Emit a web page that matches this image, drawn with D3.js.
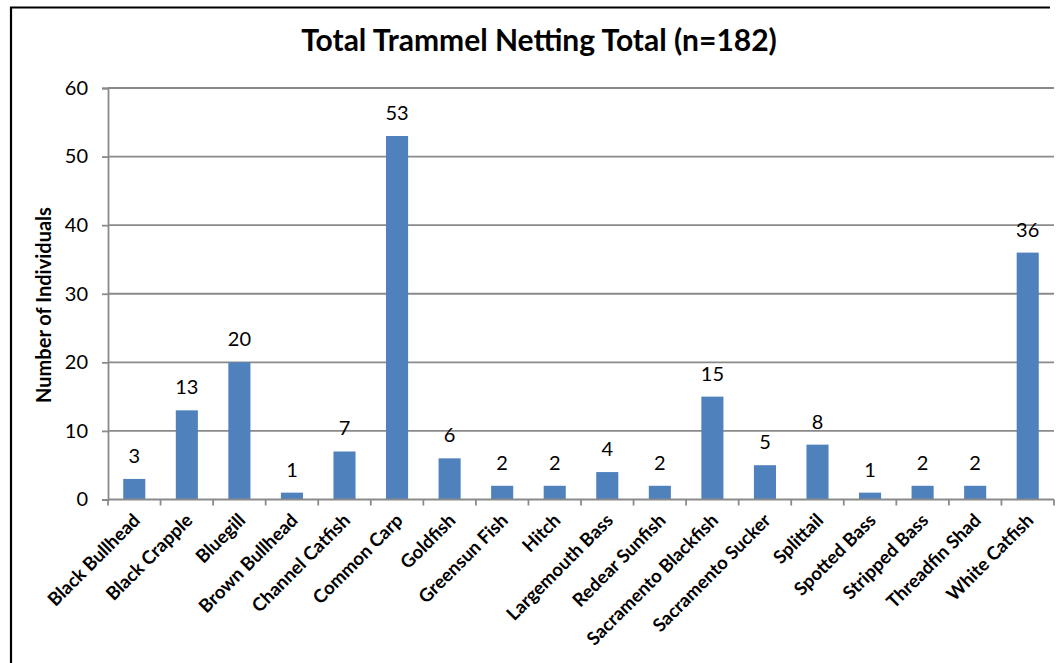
<!DOCTYPE html>
<html>
<head>
<meta charset="utf-8">
<script src="https://cdn.jsdelivr.net/npm/d3@7/dist/d3.min.js"></script>
<style>
  html, body { margin: 0; padding: 0; background: #fff; }
  svg { display: block; }
  text { font-family: Lato, "Open Sans", sans-serif; fill: #000; }
</style>
</head>
<body>
<svg id="chart" width="1058" height="663"></svg>
<script>
// Species caught by trammel netting and their counts
const categories = [
  "Black Bullhead", "Black Crapple", "Bluegill", "Brown Bullhead",
  "Channel Catfish", "Common Carp", "Goldfish", "Greensun Fish", "Hitch",
  "Largemouth Bass", "Redear Sunfish", "Sacramento Blackfish",
  "Sacramento Sucker", "Splittail", "Spotted Bass", "Stripped Bass",
  "Threadfin Shad", "White Catfish"
];
const counts = [3, 13, 20, 1, 7, 53, 6, 2, 2, 4, 2, 15, 5, 8, 1, 2, 2, 36];
const yTicks = [0, 10, 20, 30, 40, 50, 60];
const titleText = "Total Trammel Netting Total (n=182)";
const yTitle = "Number of Individuals";

const svg = d3.select("#chart");
const W = 1058, H = 663;
const plot = { left: 108, right: 1054, top: 88, bottom: 499.5 };
const gridColor = "#8a8a8a";
const barColor = "#4f81bd";

// Outer frame
svg.append("path")
  .attr("d", `M11,${H + 5} V7.5 H1050`)
  .attr("fill", "none")
  .attr("stroke", "#000")
  .attr("stroke-width", 2.2);

const x = d3.scaleBand()
  .domain(categories)
  .range([plot.left, plot.right])
  .paddingInner(0.58)
  .paddingOuter(0.29);

const y = d3.scaleLinear()
  .domain([0, 60])
  .range([plot.bottom, plot.top]);

// Horizontal gridlines
svg.append("g")
  .selectAll("line")
  .data(yTicks.filter(t => t > 0))
  .join("line")
  .attr("x1", plot.left).attr("x2", plot.right)
  .attr("y1", d => y(d)).attr("y2", d => y(d))
  .attr("stroke", gridColor)
  .attr("stroke-width", 1.8);

// Y axis
const yAxis = svg.append("g")
  .attr("transform", `translate(${plot.left},0)`)
  .call(d3.axisLeft(y).tickValues(yTicks).tickSize(6).tickPadding(14));
yAxis.select(".domain").attr("stroke", gridColor).attr("stroke-width", 1.8);
yAxis.selectAll(".tick line").attr("stroke", gridColor).attr("stroke-width", 1.8);
yAxis.selectAll(".tick text")
  .attr("font-family", "Lato, 'Open Sans', sans-serif")
  .attr("font-size", 20)
  .attr("fill", "#111");

// Bars
svg.append("g")
  .selectAll("rect")
  .data(categories.map((c, i) => ({ c, v: counts[i] })))
  .join("rect")
  .attr("x", d => x(d.c))
  .attr("width", x.bandwidth())
  .attr("y", d => y(d.v))
  .attr("height", d => y(0) - y(d.v))
  .attr("fill", barColor);

// X axis baseline and category boundary ticks
const step = x.step();
const boundaries = d3.range(categories.length + 1).map(i => plot.left + i * step);
svg.append("line")
  .attr("x1", plot.left).attr("x2", plot.right)
  .attr("y1", y(0)).attr("y2", y(0))
  .attr("stroke", gridColor).attr("stroke-width", 1.8);
svg.append("g")
  .selectAll("line")
  .data(boundaries)
  .join("line")
  .attr("x1", d => d).attr("x2", d => d)
  .attr("y1", y(0)).attr("y2", y(0) + 6)
  .attr("stroke", gridColor).attr("stroke-width", 1.8);

// Value labels above the bars
svg.append("g")
  .selectAll("text")
  .data(categories.map((c, i) => ({ c, v: counts[i] })))
  .join("text")
  .attr("x", d => x(d.c) + x.bandwidth() / 2)
  .attr("y", d => y(d.v) - 16)
  .attr("text-anchor", "middle")
  .attr("font-size", 20)
  .attr("fill", "#111")
  .text(d => d.v);

// Rotated category labels
svg.append("g")
  .selectAll("text")
  .data(categories)
  .join("text")
  .attr("transform", d => `translate(${x(d) + x.bandwidth() / 2 + 7},${plot.bottom + 22}) rotate(-45)`)
  .attr("text-anchor", "end")
  .attr("font-size", 18.5)
  .attr("font-weight", "bold")
  .text(d => d);

// Chart title
svg.append("text")
  .attr("x", 539)
  .attr("y", 51)
  .attr("text-anchor", "middle")
  .attr("font-size", 30)
  .attr("font-weight", "bold")
  .text(titleText);

// Y axis title
svg.append("text")
  .attr("transform", `translate(51,305) rotate(-90)`)
  .attr("text-anchor", "middle")
  .attr("font-size", 20)
  .attr("font-weight", "bold")
  .text(yTitle);
</script>
</body>
</html>
